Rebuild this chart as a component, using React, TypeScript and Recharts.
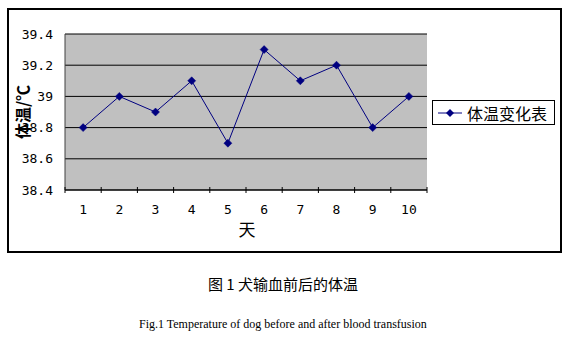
import React from 'react';
import { LineChart, Line, XAxis, YAxis, CartesianGrid, Legend } from 'recharts';

const days = ['1', '2', '3', '4', '5', '6', '7', '8', '9', '10'];
const temps = [38.8, 39.0, 38.9, 39.1, 38.7, 39.3, 39.1, 39.2, 38.8, 39.0];
const yTicks = [38.4, 38.6, 38.8, 39.0, 39.2, 39.4];
const seriesName = '体温变化表';
const yTitle = '体温/℃';
const xTitle = '天';
const caption = '图 1 犬输血前后的体温';
const captionEn = 'Fig.1 Temperature of dog before and after blood transfusion';

const data = days.map((d, i) => ({ day: d, temp: temps[i] }));

const NAVY = '#000080';
const CHART_W = 572;
const CHART_H = 351;
const MARGIN = { top: 34, left: 5, right: 145, bottom: 131 };
const Y_AXIS_W = 60;
const PLOT_W = CHART_W - MARGIN.left - MARGIN.right - Y_AXIS_W;
const X_TICK_MARGIN = 15;
const tickFont = { fontFamily: 'DejaVu Sans Mono', fontSize: 13, fill: '#000' };

const Diamond = (props: any) => {
  const { cx, cy, index } = props;
  if (cx == null || cy == null) return <g key={index} />;
  const r = 4;
  return (
    <polygon
      key={index}
      points={`${cx},${cy - r} ${cx + r},${cy} ${cx},${cy + r} ${cx - r},${cy}`}
      fill={NAVY}
      stroke={NAVY}
      strokeWidth={0.5}
    />
  );
};

const XTick = (props: any) => {
  const { x, y, payload, index, width, visibleTicksCount } = props;
  const w = typeof width === 'number' && width > 0 ? width : PLOT_W;
  const n = visibleTicksCount || days.length;
  const half = w / n / 2;
  const axisY = y - X_TICK_MARGIN;
  return (
    <g>
      {index === 0 && <line x1={x - half} x2={x - half} y1={axisY - 3} y2={axisY + 3} stroke="#000" />}
      <line x1={x + half} x2={x + half} y1={axisY - 3} y2={axisY + 3} stroke="#000" />
      <text x={x} y={y} dy="0.71em" textAnchor="middle" {...tickFont}>
        {payload.value}
      </text>
    </g>
  );
};

const LegendBox = () => (
  <div
    style={{
      border: '1px solid #000',
      width: 123,
      height: 25,
      boxSizing: 'border-box',
      display: 'flex',
      alignItems: 'center',
      background: '#fff',
    }}
  >
    <svg width={34} height={12} style={{ flex: 'none' }}>
      <line x1={5} y1={6} x2={29} y2={6} stroke={NAVY} strokeWidth={1} />
      <polygon points="17,2 21,6 17,10 13,6" fill={NAVY} />
    </svg>
    <span style={{ fontFamily: 'Noto Sans CJK SC', fontSize: 16, color: '#000', lineHeight: '16px' }}>
      {seriesName}
    </span>
  </div>
);

export default function App() {
  return (
    <div style={{ position: 'absolute', left: 0, top: 0, width: CHART_W, height: CHART_H, background: '#fff' }}>
      <div
        style={{
          position: 'absolute',
          left: 7,
          top: 8,
          width: 555,
          height: 245,
          border: '2px solid #000',
          boxSizing: 'border-box',
        }}
      />
      <div style={{ position: 'absolute', left: 0, top: 0 }}>
        <LineChart width={CHART_W} height={CHART_H} data={data} margin={MARGIN}>
          <CartesianGrid vertical={false} fill="#c0c0c0" stroke="#000" strokeOpacity={1} yAxisId="left" xAxisId="cat" />
          <XAxis
            xAxisId="cat"
            dataKey="day"
            scale="band"
            height={30}
            tickLine={false}
            tickSize={0}
            tickMargin={X_TICK_MARGIN}
            axisLine={{ stroke: '#000' }}
            tick={XTick}
            interval={0}
          />
          <YAxis
            yAxisId="left"
            domain={[38.4, 39.4]}
            ticks={yTicks}
            width={Y_AXIS_W}
            tickLine={false}
            tickSize={0}
            tickMargin={12}
            axisLine={{ stroke: '#404040' }}
            tick={tickFont}
            tickFormatter={(v: number) => Number(v.toFixed(1)).toString()}
            interval={0}
          />
          <YAxis
            yAxisId="right"
            orientation="right"
            width={0}
            tick={false}
            tickLine={false}
            axisLine={{ stroke: '#808080' }}
          />
          <Legend
            layout="vertical"
            align="center"
            verticalAlign="middle"
            content={() => <LegendBox />}
            wrapperStyle={{ left: 432, top: 100, width: 123 }}
          />
          <Line
            xAxisId="cat"
            yAxisId="left"
            type="linear"
            dataKey="temp"
            name={seriesName}
            stroke={NAVY}
            strokeWidth={1}
            dot={Diamond}
            activeDot={false}
            isAnimationActive={false}
          />
        </LineChart>
      </div>
      <div
        style={{
          position: 'absolute',
          left: 22,
          top: 112,
          transform: 'translate(-50%, -50%) rotate(-90deg)',
          fontFamily: 'Noto Sans CJK SC',
          fontWeight: 'bold',
          fontSize: 16,
          whiteSpace: 'nowrap',
          lineHeight: '16px',
        }}
      >
        {yTitle}
      </div>
      <div
        style={{
          position: 'absolute',
          left: 247,
          top: 228,
          transform: 'translate(-50%, -50%)',
          fontFamily: 'Noto Sans CJK SC',
          fontSize: 17,
          lineHeight: '17px',
        }}
      >
        {xTitle}
      </div>
      <div
        style={{
          position: 'absolute',
          left: 283,
          top: 283,
          transform: 'translate(-50%, -50%)',
          fontFamily: 'Noto Sans CJK SC',
          fontSize: 15,
          lineHeight: '15px',
          whiteSpace: 'pre',
        }}
      >
        {caption}
      </div>
      <div
        style={{
          position: 'absolute',
          left: 139,
          top: 317,
          fontFamily: 'Liberation Serif',
          fontSize: 12,
          lineHeight: '14px',
          whiteSpace: 'pre',
        }}
      >
        {captionEn}
      </div>
    </div>
  );
}
